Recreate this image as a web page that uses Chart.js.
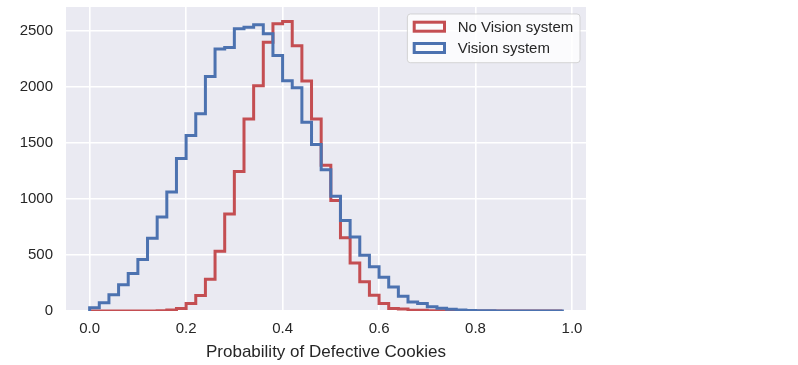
<!DOCTYPE html>
<html><head><meta charset="utf-8">
<script src="https://cdn.jsdelivr.net/npm/chart.js@4/dist/chart.umd.min.js"></script>
<style>html,body{margin:0;padding:0;background:#fff;}#wrap{width:798px;height:365px;position:relative;}canvas{display:block;}</style>
</head><body><div id="wrap"><canvas id="c" width="798" height="365"></canvas></div>
<script>
// ---- data ----
const binEdges = [0.00,0.02,0.04,0.06,0.08,0.10,0.12,0.14,0.16,0.18,
                  0.20,0.22,0.24,0.26,0.28,0.30,0.32,0.34,0.36,0.38,
                  0.40,0.42,0.44,0.46,0.48,0.50,0.52,0.54,0.56,0.58,
                  0.60,0.62,0.64,0.66,0.68,0.70,0.72,0.74,0.76,0.78,
                  0.80,0.82,0.84,0.86,0.88,0.90,0.92,0.94,0.96,0.98];
const noVisionCounts = [0,0,0,0,0,0,0,2,8,22,
                        67,138,284,534,868,1246,1716,2013,2403,2567,
                        2588,2370,2055,1716,1302,987,654,430,261,141,
                        67,22,18,7,6,3,2,1,0,0,
                        0,0,0,0,0,0,0,0,0];
const visionCounts = [29,73,145,234,335,460,650,841,1064,1362,
                      1568,1762,2096,2341,2355,2522,2535,2558,2478,2284,
                      2058,1995,1688,1487,1263,1025,808,662,498,395,
                      302,215,132,80,66,37,25,16,10,4,
                      3,2,1,1,1,0,0,0,1];
const seriesLabels = ['No Vision system', 'Vision system'];
const xTickValues = [0.0, 0.2, 0.4, 0.6, 0.8, 1.0];
const yTickValues = [0, 500, 1000, 1500, 2000, 2500];
const xAxisTitle = 'Probability of Defective Cookies';
const xLimits = [-0.049, 1.029];
const yLimits = [0, 2717];

// ---- styling ----
const FONT = '"Liberation Sans", Arial, Helvetica, sans-serif';
const TEXT = '#262626';
const RED = '#C44E52';
const BLUE = '#4C72B0';

function stepPoints(edges, counts) {
  const n = counts.length;
  const pts = [{x: edges[0], y: 0}];
  for (let i = 0; i < n; i++) pts.push({x: edges[i], y: counts[i]});
  pts.push({x: edges[n], y: counts[n - 1]});
  pts.push({x: edges[n], y: 0});
  return pts;
}

const bgPlugin = {
  id: 'plotBg',
  beforeDraw(chart) {
    const {ctx, chartArea: a} = chart;
    ctx.save();
    ctx.fillStyle = '#EAEAF2';
    ctx.fillRect(a.left, a.top, a.right - a.left, a.bottom - a.top);
    ctx.restore();
  }
};

const legendPlugin = {
  id: 'boxLegend',
  afterDatasetsDraw(chart) {
    const {ctx, chartArea: a} = chart;
    const ds = chart.data.datasets;
    ctx.save();
    ctx.font = '15px ' + FONT;
    const tw = Math.max(...ds.map(d => ctx.measureText(d.label).width));
    const w = 50.3 + tw + 6.7, h = 48.7;
    const x = a.right - 6 - w, y = a.top + 7;
    ctx.beginPath();
    ctx.roundRect(x, y, w, h, 3);
    ctx.fillStyle = 'rgba(255,255,255,0.8)';
    ctx.fill();
    ctx.lineWidth = 1;
    ctx.strokeStyle = 'rgba(204,204,204,0.8)';
    ctx.stroke();
    ds.forEach((d, i) => {
      const cy = y + 12.7 + i * 21.3;
      ctx.lineWidth = 3;
      ctx.lineJoin = 'miter';
      ctx.strokeStyle = d.borderColor;
      ctx.strokeRect(x + 6.8, cy - 4.5, 30.3, 9);
      ctx.fillStyle = TEXT;
      ctx.textBaseline = 'alphabetic';
      ctx.textAlign = 'left';
      ctx.fillText(d.label, x + 50.3, cy + 4.8);
    });
    ctx.restore();
  }
};

const common = {pointRadius: 0, pointHoverRadius: 0, borderWidth: 3, fill: false,
  stepped: 'before', clip: 0, borderJoinStyle: 'miter', borderCapStyle: 'butt', tension: 0};

new Chart(document.getElementById('c').getContext('2d'), {
  type: 'line',
  data: {
    datasets: [
      Object.assign({label: seriesLabels[0], data: stepPoints(binEdges, noVisionCounts), borderColor: RED, order: 1}, common),
      Object.assign({label: seriesLabels[1], data: stepPoints(binEdges, visionCounts), borderColor: BLUE, order: 0}, common)
    ]
  },
  options: {
    responsive: false,
    animation: false,
    devicePixelRatio: 1,
    layout: {padding: {top: 7, right: 212, left: 0, bottom: 0}},
    plugins: {legend: {display: false}, tooltip: {enabled: false}},
    scales: {
      x: {
        type: 'linear', min: xLimits[0], max: xLimits[1],
        border: {display: false},
        grid: {color: '#FFFFFF', lineWidth: 1.6, drawTicks: false},
        ticks: {padding: 9, color: TEXT, font: {family: FONT, size: 15},
                callback: v => Number(v).toFixed(1), maxRotation: 0, autoSkip: false},
        afterBuildTicks: s => { s.ticks = xTickValues.map(v => ({value: v})); },
        afterFit: s => { s.height = 54; s.paddingLeft = 0; s.paddingRight = 0; },
        title: {display: true, text: xAxisTitle, color: TEXT, font: {family: FONT, size: 17},
                padding: {top: 0, bottom: 2}}
      },
      y: {
        type: 'linear', min: yLimits[0], max: yLimits[1],
        border: {display: false},
        grid: {color: '#FFFFFF', lineWidth: 1.6, drawTicks: false},
        ticks: {padding: 13, color: TEXT, font: {family: FONT, size: 15}, autoSkip: false,
                callback: v => String(v)},
        afterBuildTicks: s => { s.ticks = yTickValues.map(v => ({value: v})); },
        afterFit: s => { s.width = 66; s.paddingTop = 0; s.paddingBottom = 0; }
      }
    }
  },
  plugins: [bgPlugin, legendPlugin]
});
</script>
</body></html>
